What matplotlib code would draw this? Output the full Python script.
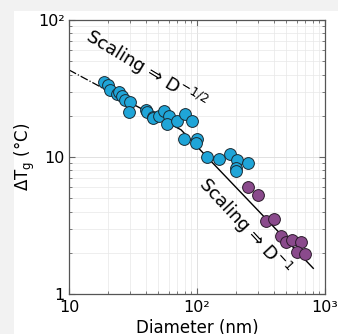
import matplotlib
matplotlib.use("Agg")
import matplotlib.pyplot as plt
from matplotlib.patches import Rectangle
from matplotlib.ticker import FixedLocator, FixedFormatter, LogLocator, NullFormatter

plt.rcParams['font.family'] = ['DejaVu Sans']
plt.rcParams['mathtext.default'] = 'regular'

# Data
blue_x = [18.9, 20.2, 20.9, 23.6, 24.4, 25.8, 27.6, 30.0, 29.6, 39.9, 40.8, 45.6, 45.0, 50.7,
          55.2, 60.6, 58.6, 70.2, 80.5, 79.1, 90.9, 99.5, 97.6, 119, 149, 181, 204, 202, 201, 249]
blue_y = [35.4, 33.8, 30.8, 28.6, 29.8, 28.0, 26.0, 25.0, 21.4, 22.2, 21.2, 19.7, 19.2, 19.9,
          21.8, 19.9, 17.3, 18.3, 20.5, 13.5, 18.3, 13.5, 12.6, 10.0, 9.6, 10.5, 9.5, 8.27, 7.9, 9.1]
purple_x = [249, 301, 346, 400, 451, 496, 550, 646, 601, 698]
purple_y = [6.07, 5.28, 3.43, 3.51, 2.65, 2.38, 2.48, 2.41, 2.04, 1.96]

fit_dashdot_x = [10, 19]
fit_dashdot_y = [43.2, 31.3]
fit_solid_x = [19, 75, 810]
fit_solid_y = [31.3, 15.8, 1.54]

xticks = [10, 100, 1000]
xticklabels = ['10', '10²', '10³']
yticks = [1, 10, 100]
yticklabels = ['1', '10', '10²']

W, H = 338, 334
fig = plt.figure(figsize=(W / 100, H / 100), dpi=100, facecolor='#f2f2f2')
bg = Rectangle((14 / W, 0), 1 - 14 / W, 1 - 11 / H, transform=fig.transFigure,
               facecolor='white', edgecolor='none', zorder=-10)
fig.add_artist(bg)
ax = fig.add_axes([69 / W, 40 / H, (325 - 69) / W, (294 - 20) / H])
ax.set_zorder(1)
ax.set_xscale('log')
ax.set_yscale('log')
ax.set_xlim(10, 1000)
ax.set_ylim(1, 100)

ax.grid(True, which='major', color='#dcdcdc', linewidth=0.6)
ax.grid(True, which='minor', color='#e8e8e8', linewidth=0.5)
ax.set_axisbelow(True)

ax.plot(fit_dashdot_x, fit_dashdot_y, color='black', linestyle='-.', linewidth=0.9, zorder=2)
ax.plot(fit_solid_x, fit_solid_y, color='black', linestyle='-', linewidth=1.0, zorder=2)

ax.scatter(blue_x, blue_y, s=72, color='#1fa5d8', edgecolor='#1a2a33', linewidth=0.7, zorder=3)
ax.scatter(purple_x, purple_y, s=72, color='#8a4a8c', edgecolor='#2a1a2a', linewidth=0.7, zorder=3)

ax.xaxis.set_major_locator(FixedLocator(xticks))
ax.xaxis.set_major_formatter(FixedFormatter(xticklabels))
ax.yaxis.set_major_locator(FixedLocator(yticks))
ax.yaxis.set_major_formatter(FixedFormatter(yticklabels))
ax.xaxis.set_minor_locator(LogLocator(base=10, subs=range(2, 10)))
ax.yaxis.set_minor_locator(LogLocator(base=10, subs=range(2, 10)))
ax.xaxis.set_minor_formatter(NullFormatter())
ax.yaxis.set_minor_formatter(NullFormatter())

ax.tick_params(which='both', direction='in', top=True, right=True, color='#666666',
               labelsize=11.5)
ax.tick_params(axis='x', which='both', pad=4)
ax.tick_params(axis='y', which='both', pad=3)
ax.tick_params(which='major', length=4, width=0.8)
ax.tick_params(which='minor', length=2, width=0.6)
for s in ax.spines.values():
    s.set_color('#555555')
    s.set_linewidth(0.9)

ax.set_xlabel('Diameter (nm)', fontsize=12, labelpad=3)
ax.set_ylabel(r'$\Delta T_g$ (°C)', fontsize=12, labelpad=1)

ax.text(39.9, 43.3, 'Scaling ⇒ D$^{−1/2}$', rotation=-31, rotation_mode='anchor',
        ha='center', va='center', fontsize=13)
ax.text(237, 3.1, 'Scaling ⇒ D$^{−1}$', rotation=-47, rotation_mode='anchor',
        ha='center', va='center', fontsize=13)

fig.savefig('out.png', dpi=100, facecolor=fig.get_facecolor())
